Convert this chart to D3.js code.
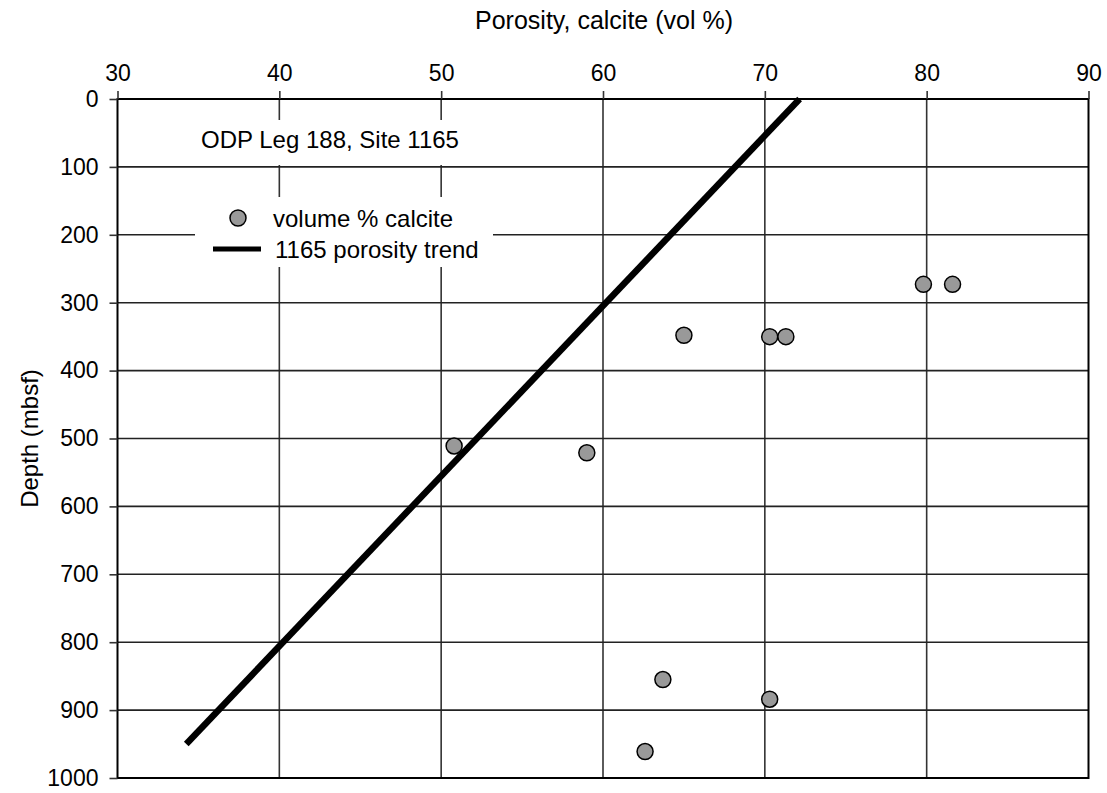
<!DOCTYPE html>
<html>
<head>
<meta charset="utf-8">
<script src="https://cdn.jsdelivr.net/npm/d3@7"></script>
<style>
  html, body { margin: 0; padding: 0; background: #fff; }
  svg { display: block; }
  text { font-family: "Liberation Sans", Arial, Helvetica, sans-serif; fill: #000; }
</style>
</head>
<body>
<svg id="chart" width="1107" height="793"></svg>
<script>
// ---- data ----
const xTicks = [30, 40, 50, 60, 70, 80, 90];
const yTicks = [0, 100, 200, 300, 400, 500, 600, 700, 800, 900, 1000];
const calcitePorosity = [79.8, 81.6, 65.0, 70.3, 71.3, 50.8, 59.0, 63.7, 70.3, 62.6];
const calciteDepth    = [273, 273, 348, 350, 350, 511, 521, 855, 884, 961];
const trendPorosity = [72.15, 34.25];
const trendDepth    = [0, 950];
const titleX = "Porosity, calcite (vol %)";
const titleY = "Depth (mbsf)";
const siteLabel = "ODP Leg 188, Site 1165";
const legendLabels = ["volume % calcite", "1165 porosity trend"];

// ---- layout ----
const svg = d3.select("#chart");
const L = 117.5, R = 1088.5, T = 99, B = 778;
const x = d3.scaleLinear().domain([30, 90]).range([L, R]);
const y = d3.scaleLinear().domain([0, 1000]).range([T, B]);

// grid
const grid = svg.append("g");
grid.selectAll("line.vx").data(xTicks.slice(1, -1)).join("line")
  .attr("x1", d => x(d)).attr("x2", d => x(d)).attr("y1", T).attr("y2", B)
  .attr("stroke", "#333").attr("stroke-width", 1.6);
grid.selectAll("line.hy").data(yTicks.slice(1, -1)).join("line")
  .attr("x1", L).attr("x2", R).attr("y1", d => y(d)).attr("y2", d => y(d))
  .attr("stroke", "#222").attr("stroke-width", 1.6);

// white boxes behind labels
svg.append("rect").attr("x", 195).attr("y", 120).attr("width", 275).attr("height", 45).attr("fill", "#fff");
svg.append("rect").attr("x", 195).attr("y", 197).attr("width", 298).attr("height", 70).attr("fill", "#fff");

// frame
svg.append("rect").attr("x", L).attr("y", T).attr("width", R - L).attr("height", B - T)
  .attr("fill", "none").attr("stroke", "#000").attr("stroke-width", 2);

// axes
const xAxis = d3.axisTop(x).tickValues(xTicks).tickSize(8).tickPadding(10).tickFormat(d3.format("d"));
const gx = svg.append("g").attr("transform", `translate(0,${T})`).call(xAxis);
gx.select(".domain").remove();
gx.selectAll(".tick line").attr("stroke", "#333").attr("stroke-width", 1.6);
gx.selectAll(".tick text").attr("font-size", 23).attr("font-family", "Liberation Sans, Arial, sans-serif").attr("fill", "#000");

const yAxis = d3.axisLeft(y).tickValues(yTicks).tickSize(8).tickPadding(11).tickFormat(d3.format("d"));
const gy = svg.append("g").attr("transform", `translate(${L},0)`).call(yAxis);
gy.select(".domain").remove();
gy.selectAll(".tick line").attr("stroke", "#333").attr("stroke-width", 1.6);
gy.selectAll(".tick text").attr("font-size", 23).attr("font-family", "Liberation Sans, Arial, sans-serif").attr("fill", "#000");

// titles
svg.append("text").attr("x", (L + R) / 2 + 1).attr("y", 20).attr("text-anchor", "middle")
  .attr("dominant-baseline", "central").attr("font-size", 25).text(titleX);
svg.append("text").attr("transform", `translate(29,${(T + B) / 2}) rotate(-90)`)
  .attr("text-anchor", "middle").attr("dominant-baseline", "central").attr("font-size", 24).text(titleY);

// trend line
const trend = trendPorosity.map((p, i) => [p, trendDepth[i]]);
svg.append("path").datum(trend)
  .attr("d", d3.line().x(d => x(d[0])).y(d => y(d[1])))
  .attr("fill", "none").attr("stroke", "#000").attr("stroke-width", 6.5).attr("stroke-linecap", "butt");

// points
const pts = calcitePorosity.map((p, i) => [p, calciteDepth[i]]);
svg.selectAll("circle.pt").data(pts).join("circle")
  .attr("cx", d => x(d[0])).attr("cy", d => y(d[1])).attr("r", 8)
  .attr("fill", "#999").attr("stroke", "#000").attr("stroke-width", 1.5);

// site label
svg.append("text").attr("x", 201).attr("y", 148).attr("font-size", 24).text(siteLabel);

// legend
svg.append("circle").attr("cx", 238).attr("cy", 218).attr("r", 8)
  .attr("fill", "#999").attr("stroke", "#000").attr("stroke-width", 1.5);
svg.append("text").attr("x", 273).attr("y", 218).attr("dominant-baseline", "central").attr("font-size", 24).text(legendLabels[0]);
svg.append("line").attr("x1", 213).attr("x2", 261).attr("y1", 249).attr("y2", 249)
  .attr("stroke", "#000").attr("stroke-width", 5);
svg.append("text").attr("x", 275).attr("y", 249).attr("dominant-baseline", "central").attr("font-size", 24).text(legendLabels[1]);
</script>
</body>
</html>
